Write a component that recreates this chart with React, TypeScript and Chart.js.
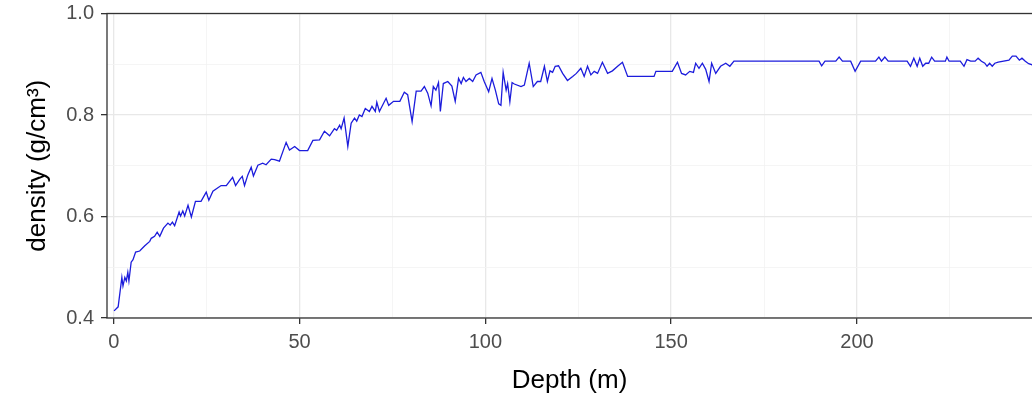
import React, { useEffect, useRef } from "react";
import { Chart, registerables } from "chart.js";

Chart.register(...registerables);

const depth = [
  0.1, 1.2, 2.2, 2.5, 3.0, 3.4, 3.8, 4.1, 4.7, 5.2, 5.9, 7.0, 8.3, 9.7, 10.1, 11.0, 11.7, 12.4, 13.4, 14.6,
  15.2, 15.8, 16.4, 17.6, 18.0, 18.6, 19.1, 20.0, 20.9, 22.0, 23.5, 24.9, 25.6, 26.7, 28.9, 30.3, 32.0, 32.8, 33.9, 34.6,
  35.2, 36.1, 37.0, 37.6, 38.8, 40.1, 41.0, 42.4, 43.3, 44.6, 46.4, 47.3, 48.7, 50.0, 52.2, 53.6, 55.4, 56.7, 58.1, 59.4,
  60.0, 60.8, 61.2, 62.0, 63.0, 63.9, 64.8, 65.4, 66.1, 66.8, 67.7, 68.8, 69.5, 70.4, 70.8, 71.5, 73.3, 74.0, 75.3, 77.0,
  78.2, 79.1, 80.3, 81.4, 82.7, 83.6, 84.5, 85.4, 86.0, 86.7, 87.4, 87.9, 88.7, 89.9, 91.0, 91.9, 92.8, 93.5, 94.1, 94.8,
  95.7, 96.6, 97.5, 98.8, 99.7, 100.9, 101.8, 102.7, 103.6, 104.2, 104.8, 105.6, 106.0, 106.6, 107.2, 107.8, 109.6, 110.5, 111.8, 112.9,
  114.0, 114.9, 115.9, 116.7, 117.4, 118.1, 118.8, 119.7, 120.8, 122.1, 123.5, 124.5, 125.7, 126.6, 127.5, 128.4, 129.3, 130.2, 131.5, 132.9,
  134.2, 135.6, 136.9, 138.3, 145.4, 145.9, 150.3, 151.7, 152.8, 153.9, 155.0, 156.0, 156.6, 157.5, 158.4, 159.3, 160.2, 160.9, 162.0, 163.3,
  164.7, 165.8, 166.9, 189.8, 190.5, 191.4, 194.3, 195.2, 196.1, 198.3, 199.5, 201.0, 205.0, 205.9, 206.6, 207.5, 208.4, 213.5, 214.4, 215.3,
  216.2, 216.9, 217.7, 218.5, 219.3, 220.1, 220.9, 223.8, 224.2, 224.8, 227.8, 228.8, 229.6, 230.6, 231.8, 232.6, 233.5, 234.4, 235.0, 235.7,
  236.4, 237.1, 238.0, 240.9, 241.8, 242.8, 243.7, 244.4, 245.3, 246.2, 247.5,
];

const density = [
  0.414, 0.422, 0.48, 0.463, 0.48, 0.473, 0.49, 0.473, 0.51, 0.515, 0.53, 0.532, 0.542, 0.551, 0.557, 0.561, 0.569, 0.561, 0.577, 0.587,
  0.583, 0.589, 0.582, 0.609, 0.601, 0.611, 0.601, 0.622, 0.599, 0.63, 0.63, 0.648, 0.632, 0.65, 0.661, 0.661, 0.677, 0.661, 0.673, 0.679,
  0.661, 0.682, 0.697, 0.68, 0.701, 0.705, 0.702, 0.713, 0.712, 0.709, 0.746, 0.731, 0.738, 0.73, 0.73, 0.75, 0.751, 0.768, 0.759, 0.773,
  0.77, 0.78, 0.773, 0.794, 0.738, 0.784, 0.794, 0.788, 0.8, 0.797, 0.813, 0.807, 0.817, 0.807, 0.825, 0.807, 0.833, 0.819, 0.827, 0.827,
  0.845, 0.84, 0.787, 0.847, 0.847, 0.856, 0.843, 0.818, 0.856, 0.849, 0.864, 0.807, 0.862, 0.866, 0.857, 0.827, 0.872, 0.862, 0.874, 0.866,
  0.872, 0.866, 0.879, 0.884, 0.866, 0.846, 0.872, 0.849, 0.822, 0.819, 0.884, 0.849, 0.862, 0.826, 0.864, 0.861, 0.856, 0.859, 0.902, 0.856,
  0.866, 0.866, 0.896, 0.866, 0.887, 0.884, 0.896, 0.897, 0.882, 0.868, 0.876, 0.882, 0.892, 0.876, 0.896, 0.879, 0.886, 0.882, 0.904, 0.882,
  0.887, 0.896, 0.904, 0.876, 0.876, 0.886, 0.886, 0.904, 0.882, 0.879, 0.886, 0.884, 0.902, 0.892, 0.902, 0.89, 0.866, 0.902, 0.882, 0.896,
  0.902, 0.896, 0.906, 0.906, 0.897, 0.906, 0.906, 0.914, 0.906, 0.906, 0.886, 0.906, 0.906, 0.914, 0.906, 0.914, 0.906, 0.906, 0.896, 0.912,
  0.896, 0.912, 0.896, 0.902, 0.902, 0.914, 0.906, 0.906, 0.914, 0.906, 0.906, 0.896, 0.909, 0.906, 0.906, 0.912, 0.906, 0.902, 0.896, 0.902,
  0.896, 0.902, 0.904, 0.908, 0.916, 0.916, 0.908, 0.912, 0.906, 0.901, 0.898,
];

const xMajorTicks = [0, 50, 100, 150, 200];
const xMinorTicks = [25, 75, 125, 175, 225];
const yMajorTicks = [0.4, 0.6, 0.8, 1.0];
const yMinorTicks = [0.5, 0.7, 0.9];
const xTitle = "Depth (m)";
const yTitle = "density (g/cm³)";

const FONT = "'Liberation Sans', Arial, sans-serif";
const isMajor = (list: number[], v: number) => list.some((m) => Math.abs(m - v) < 1e-6);

const panelBorder = {
  id: "panelBorder",
  afterDraw(chart: any) {
    const { ctx, chartArea } = chart;
    ctx.save();
    ctx.strokeStyle = "#333333";
    ctx.lineWidth = 1.3;
    ctx.strokeRect(chartArea.left, chartArea.top, chartArea.right - chartArea.left + 5, chartArea.bottom - chartArea.top);
    ctx.restore();
  },
};

export default function App() {
  const ref = useRef<HTMLCanvasElement | null>(null);

  useEffect(() => {
    if (!ref.current) return;
    const points = depth.map((d, i) => ({ x: d, y: density[i] }));
    const chart = new Chart(ref.current, {
      type: "line",
      data: {
        datasets: [
          {
            data: points,
            borderColor: "#1c1cdc",
            borderWidth: 1.3,
            pointRadius: 0,
            tension: 0,
            fill: false,
          },
        ],
      },
      options: {
        responsive: false,
        animation: false,
        events: [],
        layout: { padding: { top: 13.5, left: 0, right: 0, bottom: 0 } },
        plugins: { legend: { display: false }, tooltip: { enabled: false } },
        scales: {
          x: {
            type: "linear",
            min: -1.8,
            max: 247.1,
            afterBuildTicks: (scale: any) => {
              scale.ticks = [...xMajorTicks, ...xMinorTicks].sort((a, b) => a - b).map((v) => ({ value: v }));
            },
            afterFit: (scale: any) => {
              scale.height = 85;
              scale.paddingLeft = 0;
              scale.paddingRight = 0;
            },
            border: { display: false },
            grid: {
              color: (c: any) => (isMajor(xMajorTicks, c.tick?.value) ? "#e8e8e8" : "#f3f3f3"),
              lineWidth: (c: any) => (isMajor(xMajorTicks, c.tick?.value) ? 1.3 : 0.8),
              tickColor: (c: any) => (isMajor(xMajorTicks, c.tick?.value) ? "#333333" : "rgba(0,0,0,0)"),
              tickLength: 6,
              tickWidth: 1.3,
            },
            ticks: {
              autoSkip: false,
              maxRotation: 0,
              padding: 6,
              color: "#4d4d4d",
              font: { family: FONT, size: 20 },
              callback: (v: any) => (isMajor(xMajorTicks, Number(v)) ? String(v) : ""),
            },
            title: {
              display: true,
              text: xTitle,
              color: "#000000",
              font: { family: FONT, size: 26 },
              padding: { top: 0, bottom: 7 },
            },
          },
          y: {
            type: "linear",
            min: 0.4,
            max: 1.0,
            afterBuildTicks: (scale: any) => {
              scale.ticks = [...yMajorTicks, ...yMinorTicks].sort((a, b) => a - b).map((v) => ({ value: v }));
            },
            afterFit: (scale: any) => {
              scale.width = 107;
              scale.paddingTop = 0;
              scale.paddingBottom = 0;
            },
            border: { display: false },
            grid: {
              color: (c: any) => (isMajor(yMajorTicks, c.tick?.value) ? "#e8e8e8" : "#f3f3f3"),
              lineWidth: (c: any) => (isMajor(yMajorTicks, c.tick?.value) ? 1.3 : 0.8),
              tickColor: (c: any) => (isMajor(yMajorTicks, c.tick?.value) ? "#333333" : "rgba(0,0,0,0)"),
              tickLength: 6,
              tickWidth: 1.3,
            },
            ticks: {
              autoSkip: false,
              padding: 7,
              color: "#4d4d4d",
              font: { family: FONT, size: 20 },
              callback: (v: any) => (isMajor(yMajorTicks, Number(v)) ? Number(v).toFixed(1) : ""),
            },
            title: {
              display: true,
              text: yTitle,
              color: "#000000",
              font: { family: FONT, size: 26 },
              padding: { top: 22, bottom: 0 },
            },
          },
        },
      },
      plugins: [panelBorder],
    } as any);
    return () => chart.destroy();
  }, []);

  return (
    <div style={{ position: "fixed", left: 0, top: 0, width: 1032, height: 403, background: "#ffffff" }}>
      <canvas ref={ref} width={1032} height={403} style={{ display: "block", width: 1032, height: 403 }} />
    </div>
  );
}
